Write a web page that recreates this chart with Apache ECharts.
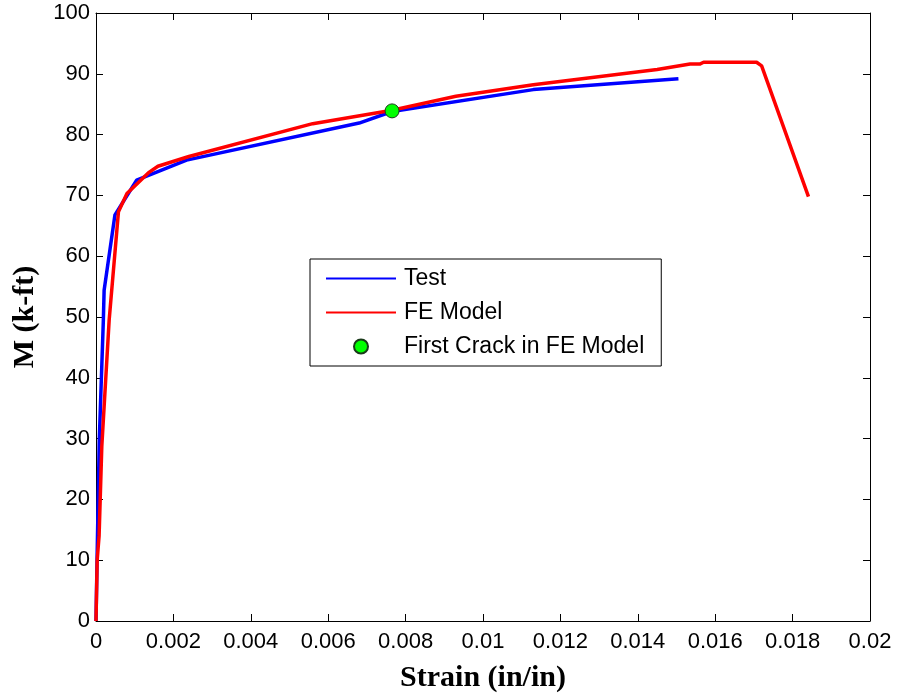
<!DOCTYPE html>
<html>
<head>
<meta charset="utf-8">
<style>
  html, body { margin: 0; padding: 0; background: #fff; }
  #chart { width: 897px; height: 695px; }
</style>
<script src="https://cdn.jsdelivr.net/npm/echarts@6/dist/echarts.min.js"></script>
</head>
<body>
<div id="chart"></div>
<script>
// Moment vs. strain: measured response and finite-element prediction
const testStrain = [0, 0.00003, 0.000085, 0.00019, 0.00021, 0.00049, 0.00105, 0.00234, 0.0068, 0.00765, 0.0113, 0.01505];
const testMoment = [0, 11, 29.8, 49.5, 54.4, 66.8, 72.5, 75.8, 81.9, 83.8, 87.4, 89.2];

const feStrain = [0, 0.00003, 0.00008, 0.00015, 0.00034, 0.00058, 0.0008, 0.00135, 0.0016, 0.0024, 0.0056, 0.00765, 0.0093, 0.0113, 0.0145, 0.01535, 0.0156, 0.0157, 0.01707, 0.0172, 0.01841];
const feMoment = [0, 10, 14, 28.7, 49.5, 67.3, 70.3, 73.7, 74.8, 76.4, 81.8, 84.0, 86.3, 88.2, 90.7, 91.6, 91.6, 91.9, 91.9, 91.3, 69.8];

const crackStrain = [0.00765];
const crackMoment = [83.9];

const xTicks = { min: 0, max: 0.02, interval: 0.002 };
const yTicks = { min: 0, max: 100, interval: 10 };

const pairs = (xs, ys) => xs.map((x, i) => [x, ys[i]]);

const tickFont = { fontFamily: 'Liberation Sans, Arial, sans-serif', fontSize: 22, color: '#000' };
const titleFont = { fontFamily: 'Liberation Serif, Times New Roman, serif', fontWeight: 'bold', fontSize: 30, color: '#000' };
const axisLine = { show: true, onZero: false, lineStyle: { color: '#000', width: 1 } };
const tickIn = { show: true, inside: true, length: 7, lineStyle: { color: '#000', width: 1 } };

const chart = echarts.init(document.getElementById('chart'), null, { renderer: 'canvas' });
chart.setOption({
  animation: false,
  backgroundColor: '#fff',
  grid: { left: 96, right: 27, top: 13, bottom: 74, containLabel: false, outerBoundsMode: 'none' },
  xAxis: [
    {
      type: 'value', position: 'bottom', ...xTicks,
      name: 'Strain (in/in)', nameLocation: 'middle', nameGap: 42,
      nameTextStyle: titleFont,
      axisLine: axisLine, axisTick: tickIn,
      axisLabel: { ...tickFont, margin: 10, formatter: v => String(+v.toFixed(3)) },
      splitLine: { show: false }
    },
    {
      type: 'value', position: 'top', ...xTicks,
      axisLine: axisLine, axisTick: tickIn,
      axisLabel: { show: false }, splitLine: { show: false }
    }
  ],
  yAxis: [
    {
      type: 'value', position: 'left', ...yTicks,
      name: 'M (k-ft)', nameLocation: 'middle', nameGap: 56,
      nameTextStyle: titleFont,
      axisLine: axisLine, axisTick: tickIn,
      axisLabel: { ...tickFont, margin: 6 },
      splitLine: { show: false }
    },
    {
      type: 'value', position: 'right', ...yTicks,
      axisLine: axisLine, axisTick: tickIn,
      axisLabel: { show: false }, splitLine: { show: false }
    }
  ],
  legend: {
    orient: 'vertical',
    left: 310, top: 259,
    padding: [8, 17, 8, 15],
    itemGap: 11,
    itemWidth: 70, itemHeight: 14,
    borderColor: '#000', borderWidth: 1, borderRadius: 0,
    backgroundColor: '#fff',
    textStyle: { fontFamily: 'Liberation Sans, Arial, sans-serif', fontSize: 23, color: '#000', padding: [0, 0, 0, 3] },
    data: [
      { name: 'Test', itemStyle: { opacity: 0 } },
      { name: 'FE Model', itemStyle: { opacity: 0 } },
      { name: 'First Crack in FE Model' }
    ]
  },
  series: [
    {
      name: 'Test', type: 'line', data: pairs(testStrain, testMoment),
      symbol: 'none', lineStyle: { color: '#0000ff', width: 3.5 }, itemStyle: { color: '#0000ff' },
      z: 2
    },
    {
      name: 'FE Model', type: 'line', data: pairs(feStrain, feMoment),
      symbol: 'none', lineStyle: { color: '#ff0000', width: 3.5 }, itemStyle: { color: '#ff0000' },
      z: 3
    },
    {
      name: 'First Crack in FE Model', type: 'scatter', data: pairs(crackStrain, crackMoment),
      symbol: 'circle', symbolSize: 14,
      itemStyle: { color: '#00ff00', borderColor: '#1a3a1a', borderWidth: 1, opacity: 1 },
      z: 4
    }
  ]
});
</script>
</body>
</html>
